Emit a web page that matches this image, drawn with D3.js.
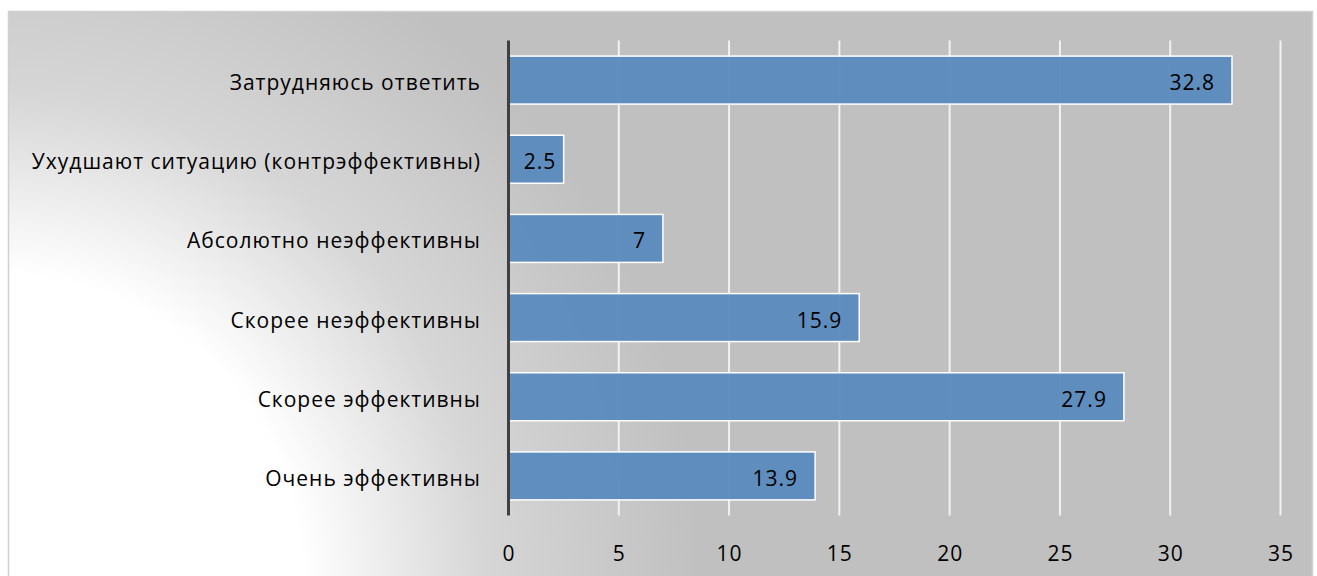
<!DOCTYPE html>
<html><head><meta charset="utf-8">
<script src="https://cdn.jsdelivr.net/npm/d3@7"></script>
<style>html,body{margin:0;padding:0;background:#fff;}svg{display:block;}</style>
</head><body>
<script>
const categories = ["Затрудняюсь ответить","Ухудшают ситуацию (контрэффективны)","Абсолютно неэффективны","Скорее неэффективны","Скорее эффективны","Очень эффективны"];
const values = [32.8, 2.5, 7, 15.9, 27.9, 13.9];
const valueLabels = ["32.8","2.5","7","15.9","27.9","13.9"];
const tickValues = [0,5,10,15,20,25,30,35];

const W = 1317, H = 576;
const font = "'Open Sans', sans-serif";
const fs = 21, ls = 1;
const svg = d3.select("body").append("svg").attr("width", W).attr("height", H);
const defs = svg.append("defs");
const rg = defs.append("radialGradient").attr("id","bg").attr("gradientUnits","userSpaceOnUse")
  .attr("cx",0).attr("cy",576).attr("r",700);
rg.append("stop").attr("offset","0").attr("stop-color","#ffffff");
rg.append("stop").attr("offset","0.43").attr("stop-color","#ffffff");
rg.append("stop").attr("offset","0.69").attr("stop-color","#d6d6d6");
rg.append("stop").attr("offset","1").attr("stop-color","#c0c0c0");

svg.append("rect").attr("x",8.5).attr("y",11.5).attr("width",1304).attr("height",580)
  .attr("fill","url(#bg)").attr("stroke","#d0d0d0").attr("stroke-width",1.5);

const x = d3.scaleLinear().domain([0,35]).range([508.5,1280.5]);
const y = d3.scaleBand().domain(categories).range([40.5,515.5]).paddingInner(0.394).paddingOuter(0.197);

// gridlines
svg.append("g").selectAll("line").data(tickValues.filter(t=>t>0)).join("line")
  .attr("x1",d=>x(d)).attr("x2",d=>x(d)).attr("y1",40.5).attr("y2",515.5)
  .attr("stroke","#f2f2f2").attr("stroke-width",2);

// bars
svg.append("g").selectAll("rect").data(values).join("rect")
  .attr("x",x(0)).attr("y",(d,i)=>y(categories[i]))
  .attr("width",d=>x(d)-x(0)).attr("height",y.bandwidth())
  .attr("fill","#5b8bbe").attr("fill-opacity",0.97).attr("stroke","#ffffff").attr("stroke-width",1.5);

// value labels (inside end; centered if they do not fit)
svg.append("g").selectAll("text").data(values).join("text")
  .attr("y",(d,i)=>y(categories[i])+y.bandwidth()/2+2)
  .attr("dominant-baseline","central")
  .attr("font-family",font).attr("font-size",fs).attr("letter-spacing",ls).attr("fill","#000")
  .text((d,i)=>valueLabels[i])
  .each(function(d){
    const w = this.getComputedTextLength();
    const barW = x(d)-x(0);
    const sel = d3.select(this);
    if (w + 24 > barW) sel.attr("text-anchor","middle").attr("x",(x(0)+x(d))/2 + 4);
    else sel.attr("text-anchor","end").attr("x",x(d)-17);
  });

// x axis
const xAxis = d3.axisBottom(x).tickValues(tickValues).tickSize(0).tickPadding(0).tickFormat(d3.format("d"));
const gx = svg.append("g").attr("transform","translate(0,553)").call(xAxis);
gx.select(".domain").remove();
gx.selectAll("text").attr("font-family",font).attr("font-size",fs).attr("letter-spacing",ls).attr("fill","#000")
  .attr("dy",null).attr("y",0).attr("dominant-baseline","central");

// y axis
const yAxis = d3.axisLeft(y).tickSize(0).tickPadding(0);
const gy = svg.append("g").attr("transform","translate(481,2)").call(yAxis);
gy.select(".domain").remove();
gy.selectAll("text").attr("font-family",font).attr("font-size",fs).attr("letter-spacing",ls).attr("fill","#000")
  .attr("dy",null).attr("x",0).attr("dominant-baseline","central");

// axis line
svg.append("line").attr("x1",x(0)).attr("x2",x(0)).attr("y1",40.5).attr("y2",515.5)
  .attr("stroke","#404040").attr("stroke-width",3);
</script>
</body></html>
